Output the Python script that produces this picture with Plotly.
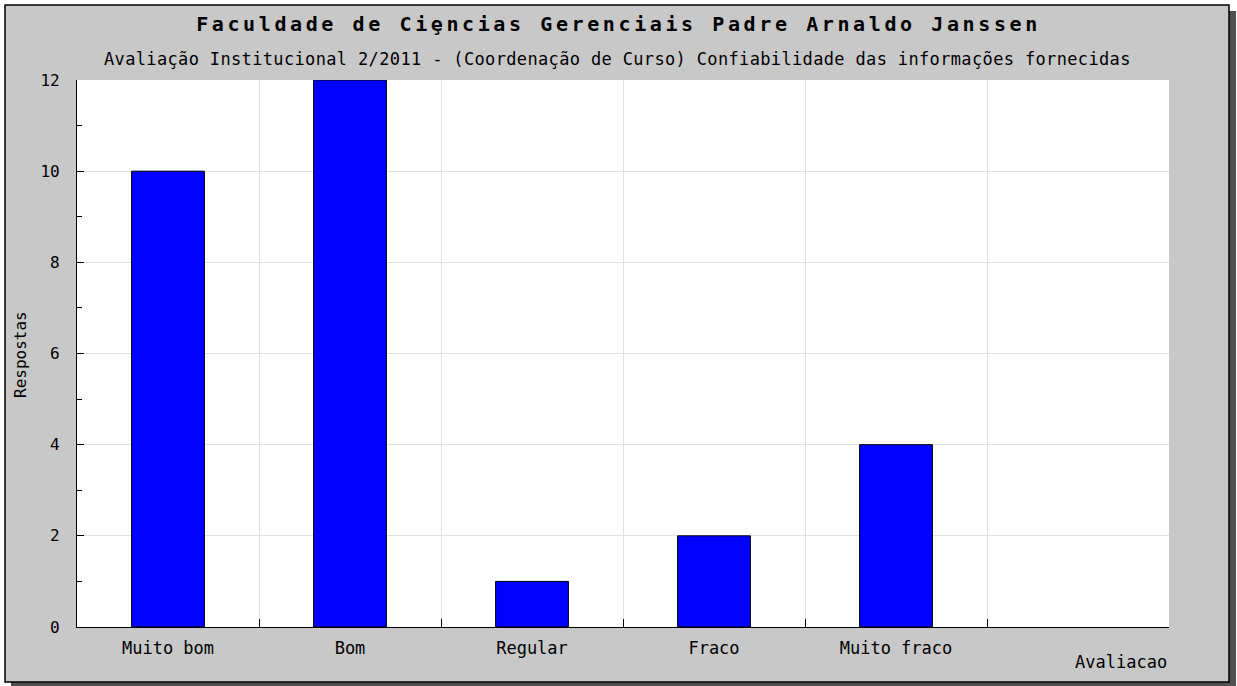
import plotly.graph_objects as go

categories = ["Muito bom", "Bom", "Regular", "Fraco", "Muito fraco"]
responses = [10, 12, 1, 2, 4]
all_slots = categories + [" "]

title_text = "Faculdade de Ciȩncias Gerenciais Padre Arnaldo Janssen"
subtitle_text = "Avaliação Institucional 2/2011 - (Coordenação de Curso) Confiabilidade das informações fornecidas"
y_title = "Respostas"
x_title = "Avaliacao"

W, H = 1237, 686
L, R, T, B = 77, 1169, 80, 627
pw, ph = R - L, B - T

def px(x):
    return (x - L) / pw

def py(y):
    return (B - y) / ph

MONO = "DejaVu Sans Mono"

fig = go.Figure()
fig.add_trace(go.Bar(
    x=categories, y=responses, width=0.4,
    marker=dict(color="#0000ff", line=dict(color="black", width=1)),
))

shapes = [
    dict(type="rect", xref="paper", yref="paper", layer="below",
         x0=px(11), x1=px(1236), y0=py(11), y1=py(690),
         fillcolor="#505050", line=dict(width=0)),
    dict(type="rect", xref="paper", yref="paper", layer="below",
         x0=px(5), x1=px(1229), y0=py(5), y1=py(682),
         fillcolor="#c8c8c8", line=dict(color="black", width=1.5)),
    dict(type="rect", xref="paper", yref="paper", layer="below",
         x0=0, x1=1, y0=0, y1=1,
         fillcolor="white", line=dict(width=0)),
]

fig.update_layout(
    width=W, height=H,
    margin=dict(l=L, r=W - R, t=T, b=H - B, pad=0),
    paper_bgcolor="white", plot_bgcolor="white",
    showlegend=False, shapes=shapes,
    font=dict(family=MONO, size=16, color="black"),
    title=dict(
        text=f'<span style="letter-spacing:3.6px">{title_text}</span>',
        x=0.5, xanchor="center", y=1 - 24 / H, yanchor="middle",
        font=dict(family=MONO, size=20, color="black", weight="bold"),
    ),
    annotations=[
        dict(text=f'<span style="letter-spacing:0.35px">{subtitle_text}</span>',
             xref="paper", yref="paper", x=px(617), y=py(59),
             xanchor="center", yanchor="middle", showarrow=False,
             font=dict(family=MONO, size=17, color="black")),
        dict(text=y_title, xref="paper", yref="paper", x=px(20), y=py(355),
             xanchor="center", yanchor="middle", showarrow=False, textangle=-90,
             font=dict(family=MONO, size=16, color="black")),
        dict(text=x_title, xref="paper", yref="paper", x=1.0, y=py(662),
             xanchor="right", yanchor="middle", showarrow=False,
             font=dict(family=MONO, size=17, color="black")),
    ],
    xaxis=dict(
        type="category", categoryorder="array", categoryarray=all_slots,
        range=[-0.5, 5.5], tickson="boundaries", ticks="inside", ticklen=8,
        tickcolor="black", showgrid=True, gridcolor="#e2e2e2", gridwidth=1,
        showline=True, linecolor="black", linewidth=1.2, zeroline=False,
        tickfont=dict(family=MONO, size=17), ticklabelstandoff=5,
    ),
    yaxis=dict(
        range=[0, 12], tickmode="linear", tick0=0, dtick=2,
        ticks="inside", ticklen=7, tickcolor="black",
        showgrid=True, gridcolor="#e2e2e2", gridwidth=1,
        showline=True, linecolor="black", linewidth=1.2, zeroline=False,
        tickfont=dict(family=MONO, size=16), ticklabelstandoff=13,
        minor=dict(tick0=0, dtick=1, ticks="inside", ticklen=5, tickcolor="black", showgrid=False),
    ),
)

fig.write_html("out.html", config={"displayModeBar": False},
               post_script="document.body.style.margin='0';document.body.style.overflow='hidden';")
